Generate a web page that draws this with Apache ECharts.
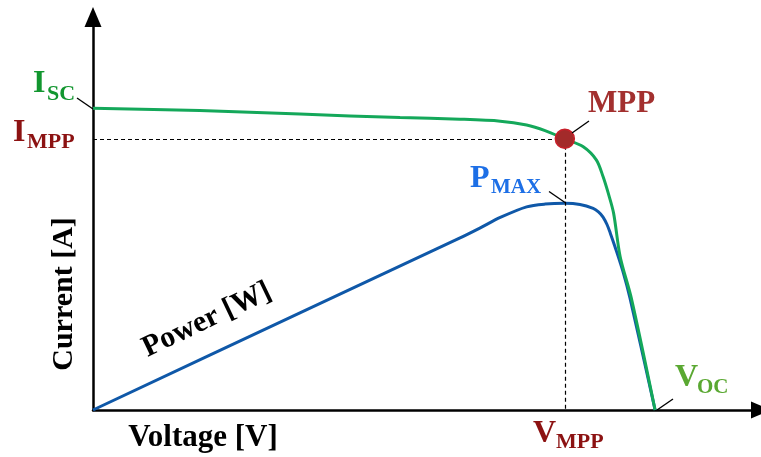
<!DOCTYPE html>
<html>
<head>
<meta charset="utf-8">
<script src="https://cdn.jsdelivr.net/npm/echarts@6/dist/echarts.min.js"></script>
<style>
html,body{margin:0;padding:0;background:#fff;}
#chart{width:761px;height:457px;}
</style>
</head>
<body>
<div id="chart"></div>
<script>
// I-V curve (green): voltage (x) and current (y), in relative units (0..100)
const ivVoltage = [0, 16.2, 31.4, 46.6, 55.7, 61.8, 65.8, 68.6, 71.6, 74.4, 76.4, 77.4, 78.2, 79.0, 80.0, 81.7, 85.3];
const ivCurrent = [76.8, 76.2, 75.3, 74.4, 74.0, 73.5, 72.5, 71.1, 69.0, 67.0, 63.6, 59.4, 55.1, 50.1, 39.0, 28.4, 0];
// P-V curve (blue): voltage (x) and power (y)
const pvVoltage = [0, 31.4, 55.7, 58.7, 61.8, 65.8, 68.6, 71.6, 73.9, 75.9, 76.7, 77.4, 78.0, 78.5, 79.2, 80.5, 81.5, 85.3];
const pvPower   = [0, 24.7, 43.8, 46.3, 49.0, 51.7, 52.4, 52.6, 52.3, 51.3, 50.4, 49.1, 47.2, 45.0, 41.6, 34.8, 28.4, 0];
// Maximum power point
const mppVoltage = 71.6;
const mppCurrent = 69.0;
const pmaxValue = 52.6;
// Text
const axisTitles = ['Voltage [V]', 'Current [A]', 'Power [W]'];
const annoMain = ['I', 'I', 'MPP', 'P', 'V', 'V'];
const annoSub = ['SC', 'MPP', '', 'MAX', 'OC', 'MPP'];

const zip = (a, b) => a.map((v, i) => [v, b[i]]);
const FF = '"Liberation Serif", "DejaVu Serif", serif';

const chart = echarts.init(document.getElementById('chart'), null, {renderer: 'canvas'});

function axis(max) {
  return {
    type: 'value', min: 0, max: max,
    axisLabel: {show: false}, axisTick: {show: false}, splitLine: {show: false},
    axisLine: {show: true, symbol: ['none', 'triangle'], symbolSize: [17, 20],
      lineStyle: {color: '#000', width: 2.5}}
  };
}

function txt(x, y, text, size, color, extra) {
  const el = {
    type: 'text', x: x, y: y, z: 100,
    style: {text: text, fontFamily: FF, fontWeight: 'bold', fontSize: size, fill: color,
      align: 'left', verticalAlign: 'middle'}
  };
  if (extra) {
    if (extra.rotation != null) el.rotation = extra.rotation;
    if (extra.align) el.style.align = extra.align;
  }
  return el;
}
function lead(x1, y1, x2, y2) {
  return {type: 'line', z: 100, shape: {x1: x1, y1: y1, x2: x2, y2: y2},
    style: {stroke: '#000', lineWidth: 1.4}};
}

const red = '#8c1212';
const option = {
  animation: false,
  backgroundColor: '#fff',
  grid: {left: 93, right: 0, top: 17, bottom: 47},
  xAxis: axis(101.37),
  yAxis: axis(100),
  series: [
    {
      type: 'line', data: zip(ivVoltage, ivCurrent), showSymbol: false, smooth: 0.3,
      clip: false,
      lineStyle: {color: '#14a85a', width: 3}, z: 3,
      markLine: {
        silent: true, symbol: 'none', label: {show: false},
        lineStyle: {color: '#000', type: [4, 3], width: 1.2},
        data: [
          [{coord: [0, mppCurrent]}, {coord: [mppVoltage, mppCurrent]}],
          [{coord: [mppVoltage, mppCurrent]}, {coord: [mppVoltage, 0]}]
        ]
      }
    },
    {
      type: 'line', data: zip(pvVoltage, pvPower), showSymbol: false, smooth: 0.3,
      clip: false,
      lineStyle: {color: '#0f58a8', width: 3}, z: 2
    },
    {
      type: 'scatter', data: [[mppVoltage, mppCurrent]], symbolSize: 19, z: 5,
      itemStyle: {color: '#a32a2a', borderColor: '#c8202a', borderWidth: 1.5, opacity: 1}
    }
  ],
  graphic: [
    // axis titles
    txt(203, 438, axisTitles[0], 31, '#000', {align: 'center'}),
    txt(64, 294, axisTitles[1], 30, '#000', {align: 'center', rotation: Math.PI / 2}),
    txt(207, 320, axisTitles[2], 30, '#000', {align: 'center', rotation: 25.5 * Math.PI / 180}),
    // I_SC
    txt(33, 84, annoMain[0], 32, '#12962f'),
    txt(47, 94, annoSub[0], 22, '#12962f'),
    lead(77, 98, 93, 109),
    // I_MPP
    txt(13, 132.5, annoMain[1], 32, red),
    txt(27, 142.5, annoSub[1], 22, red),
    // MPP
    txt(588, 104, annoMain[2], 31, '#a3302f'),
    lead(572, 133, 589, 121),
    // P_MAX
    txt(470, 179, annoMain[3], 32, '#1d6fe6'),
    txt(491, 188, annoSub[3], 21, '#1d6fe6'),
    lead(549, 191.5, 565, 202.5),
    // V_OC
    txt(675, 378, annoMain[4], 32, '#5aa832'),
    txt(697, 388, annoSub[4], 21, '#5aa832'),
    lead(657, 410, 673, 399),
    // V_MPP
    txt(533, 434, annoMain[5], 32, red),
    txt(556, 442.5, annoSub[5], 22, red)
  ]
};
chart.setOption(option);
</script>
</body>
</html>
